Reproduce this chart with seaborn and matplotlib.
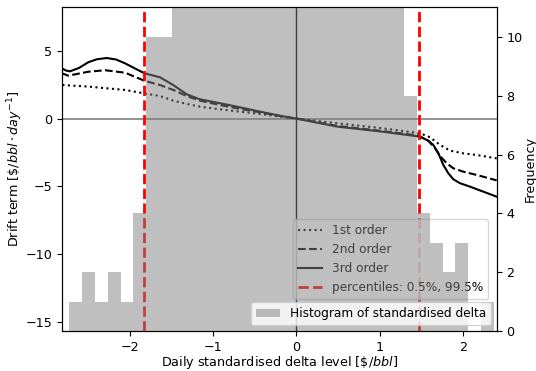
import numpy as np
import pandas as pd
import matplotlib
matplotlib.use("Agg")
import matplotlib.pyplot as plt
from matplotlib.patches import Patch
import seaborn as sns

plt.rcParams["font.size"] = 9.2
plt.rcParams["legend.fontsize"] = 8.7

# ---- data ----
x_1st = [-2.813, -2.505, -2.28, -2.06, -1.833, -1.64, -1.48, -1.32, -1.16,
         -0.918, -0.678, -0.437, -0.197, 0.0, 0.5, 1.03, 1.486, 1.606, 1.726,
         1.846, 2.006, 2.167, 2.407]
drift_1st = [2.47, 2.36, 2.23, 2.11, 1.86, 1.66, 1.32, 1.08, 0.88,
             0.68, 0.51, 0.34, 0.14, 0.0, -0.35, -0.71, -1.08, -1.38, -1.94,
             -2.36, -2.56, -2.68, -2.93]

x_2nd = [-2.821, -2.742, -2.501, -2.30, -2.06, -1.828, -1.64, -1.48, -1.32, -1.16,
         -0.918, -0.678, -0.437, -0.197, 0.0, 0.5, 1.03, 1.46, 1.585, 1.666, 1.726,
         1.806, 1.886, 2.006, 2.167, 2.407]
drift_2nd = [3.34, 3.16, 3.45, 3.56, 3.38, 2.79, 2.47, 2.11, 1.66, 1.32,
             1.00, 0.71, 0.46, 0.19, 0.0, -0.54, -0.91, -1.24, -1.63, -2.19, -2.75,
             -3.29, -3.66, -3.91, -4.15, -4.55]

x_3rd = [-2.821, -2.77, -2.721, -2.613, -2.501, -2.397, -2.28, -2.168, -2.06, -1.94,
         -1.828, -1.64, -1.48, -1.32, -1.16, -0.918, -0.678, -0.437, -0.197, 0.0,
         0.5, 1.03, 1.486, 1.585, 1.645, 1.706, 1.766, 1.826, 1.886, 1.966, 2.086,
         2.246, 2.407]
drift_3rd = [3.70, 3.54, 3.48, 3.73, 4.15, 4.37, 4.46, 4.35, 4.07, 3.69,
             3.34, 3.04, 2.47, 1.79, 1.42, 1.13, 0.83, 0.51, 0.21, 0.0,
             -0.60, -0.96, -1.33, -1.63, -1.94, -2.56, -3.42, -4.03, -4.47, -4.76, -5.01,
             -5.38, -5.75]

bin_start = -2.733
bin_width = 0.1548
hist_counts = [1, 2, 1, 2, 1, 4, 10, 10,
               30, 45, 70, 100, 140, 170, 200, 220, 230, 225, 210, 180, 150, 110,
               80, 55, 35, 20,
               8, 4, 3, 2, 3, 0, 1]
percentiles = [-1.833, 1.468]

series_labels = ["1st order", "2nd order", "3rd order"]
series_styles = [":", "--", "-"]

# ---- figure ----
fig = plt.figure(figsize=(5.36, 3.71), dpi=100)
ax = fig.add_subplot(111)
fig.subplots_adjust(left=0.1162, right=0.9267, top=0.9798, bottom=0.1078)

ax.axhline(0, color="gray", lw=1.2)
ax.axvline(0, color="k", lw=1.0)

for xs, ys, lab, ls in zip([x_1st, x_2nd, x_3rd], [drift_1st, drift_2nd, drift_3rd],
                           series_labels, series_styles):
    sns.lineplot(x=xs, y=ys, ax=ax, color="k", linestyle=ls, lw=1.5, label=lab)

for i, p in enumerate(percentiles):
    ax.axvline(p, color="red", ls="--", lw=2,
               label="percentiles: 0.5%, 99.5%" if i == 0 else None)

ax.set_xlim(-2.814, 2.407)
ax.set_ylim(-15.64, 8.18)
ax.set_yticks([-15, -10, -5, 0, 5])
ax.set_xticks([-2, -1, 0, 1, 2])
ax.set_xlabel(r"Daily standardised delta level [\$/$bbl$]", labelpad=0.5)
ax.set_ylabel(r"Drift term [\$/$bbl \cdot day^{-1}$]", labelpad=0.5)
ax.legend(loc="lower right", bbox_to_anchor=(0.980, 0.099), borderaxespad=0)

ax2 = ax.twinx()
edges = [bin_start + bin_width * i for i in range(len(hist_counts) + 1)]
centers = [(edges[i] + edges[i + 1]) / 2 for i in range(len(hist_counts))]
hist_df = pd.DataFrame({"center": centers, "count": hist_counts})
sns.histplot(data=hist_df, x="center", weights="count", bins=edges, ax=ax2,
             color="gray", alpha=0.5, linewidth=0, edgecolor="none")
ax2.set_ylim(0, 11)
ax2.set_yticks([0, 2, 4, 6, 8, 10])
ax2.set_ylabel("Frequency", labelpad=0.5)
ax.set_xlim(-2.814, 2.407)
ax2.legend(handles=[Patch(facecolor="gray", alpha=0.5, label="Histogram of standardised delta")],
           loc="lower right")

fig.savefig("out.png", dpi=100)
